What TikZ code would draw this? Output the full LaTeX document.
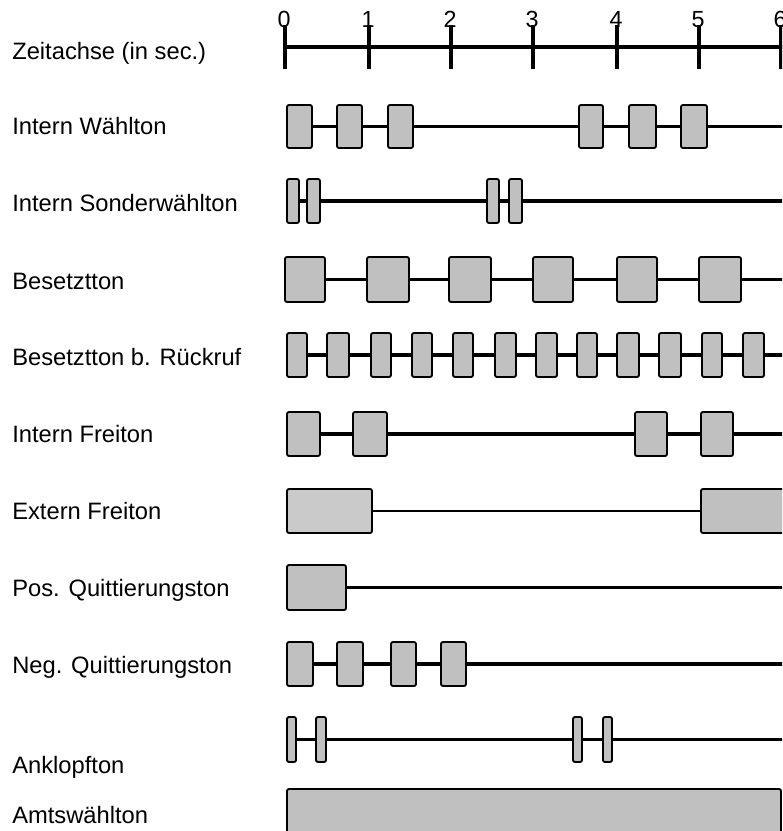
\documentclass[tikz,border=0pt]{standalone}
\usepackage{fontspec}
\setmainfont{Liberation Sans}
\usetikzlibrary{fit}
\definecolor{boxgray}{HTML}{C0C0C0}
\definecolor{boxlight}{HTML}{CACACA}
\tikzset{
  tonebox/.style={draw=black, line width=1.4pt, fill=boxgray, rounded corners=1.5pt, inner sep=0pt},
  toneline/.style={line width=2.3pt, line cap=butt},
  axisline/.style={line width=3pt},
  lbl/.style={anchor=base west, inner sep=0pt, font=\fontsize{17.8}{21}\selectfont},
  num/.style={anchor=base, inner sep=0pt, font=\fontsize{17.5}{21}\selectfont},
}
\newcommand\tonerow[6][]{%
  \foreach \xa/\xb [count=\i] in {#6} {
    \node[tonebox, fit={(\xa,#3) (\xb,#4)}] (#2-\i) {};
    \ifnum\i>1
      \pgfmathtruncatemacro\prv{\i-1}
      \draw[toneline,#1] (#2-\prv.east) -- (#2-\i.west);
    \fi
  }
}
\begin{document}
\begin{tikzpicture}[x=0.75pt, y=-0.75pt]
\useasboundingbox (0,0) rectangle (782,831);
\clip (0,0) rectangle (782,831);
\coordinate (xend) at (786,0);

% time axis
\foreach \t/\x in {0/285,1/369,2/451,3/533,4/617,5/699,6/781} {
  \coordinate (t\t) at (\x,47);
  \draw[axisline] (\x,25) -- (\x,69);
  \node[num] (n\t) at (\x-1,28) {\t};
}
\draw[axisline] (t0) -- (t6 -| xend);

% labels
\node[lbl] (l-za)  at (12,60)  {Zeitachse (in sec.)};
\node[lbl] (l-iw)  at (12,135) {Intern Wählton};
\node[lbl] (l-isw) at (12,211) {Intern Sonderwählton};
\node[lbl] (l-bt)  at (12,289) {Besetztton};
\node[lbl] (l-btr) at (12,365) {Besetztton b. Rückruf};
\node[lbl] (l-if)  at (12,442) {Intern Freiton};
\node[lbl] (l-ef)  at (12,519) {Extern Freiton};
\node[lbl] (l-pq)  at (12,596) {Pos. Quittierungston};
\node[lbl] (l-nq)  at (12,673) {Neg. Quittierungston};
\node[lbl] (l-ak)  at (12,773) {Anklopfton};
\node[lbl] (l-aw)  at (12,823) {Amtswählton};

% Intern Wählton
\tonerow{iw}{105}{148}{6}{287/312,337/362,388/413,579/603,629/656,681/707}
\coordinate (iw-end) at (iw-6.east -| xend);
\draw[toneline] (iw-6.east) -- (iw-end);

% Intern Sonderwählton
\tonerow[line width=3pt]{isw}{179}{223}{4}{287/299,307/320,487/499,509/522}
\coordinate (isw-end) at (isw-4.east -| xend);
\draw[toneline, line width=3pt] (isw-4.east) -- (isw-end);

% Besetztton
\tonerow[line width=2.8pt]{bt}{257}{302}{6}{285/325,367/409,449/491,533/573,617/657,699/741}
\coordinate (bt-end) at (bt-6.east -| xend);
\draw[toneline, line width=2.8pt] (bt-6.east) -- (bt-end);

% Besetztton b. Rueckruf
\tonerow{btr}{333}{377}{12}{287/307,327/349,371/391,412/432,453/473,495/516,536/557,577/597,617/639,659/681,702/722,743/764}
\coordinate (btr-end) at (btr-12.east -| xend);
\draw[toneline] (btr-12.east) -- (btr-end);

% Intern Freiton
\tonerow{if}{412}{456}{4}{287/320,353/387,635/667,701/733}
\coordinate (if-end) at (if-4.east -| xend);
\draw[toneline] (if-4.east) -- (if-end);

% Extern Freiton
\node[tonebox, fill=boxlight, fit={(287,489) (372,533)}] (ef-1) {};
\node[tonebox, fill=boxgray, fit={(701,489) (790,533)}] (ef-2) {};
\draw[toneline, line width=1.8pt] (ef-1.east) -- (ef-2.west);

% Pos. Quittierungston
\node[tonebox, fit={(287,565) (346,610)}] (pq-1) {};
\coordinate (pq-end) at (pq-1.east -| xend);
\draw[toneline] (pq-1.east) -- (pq-end);

% Neg. Quittierungston
\tonerow{nq}{642}{686}{4}{287/313,337/363,391/416,441/466}
\coordinate (nq-end) at (nq-4.east -| xend);
\draw[toneline] (nq-4.east) -- (nq-end);

% Anklopfton
\tonerow[line width=1.8pt]{ak}{717}{762}{4}{287/296,316/326,573/582,603/612}
\coordinate (ak-end) at (ak-4.east -| xend);
\draw[toneline, line width=1.8pt] (ak-4.east) -- (ak-end);

% Amtswaehlton
\node[tonebox, fit={(287,789) (781,860)}] (aw-1) {};
\end{tikzpicture}
\end{document}
